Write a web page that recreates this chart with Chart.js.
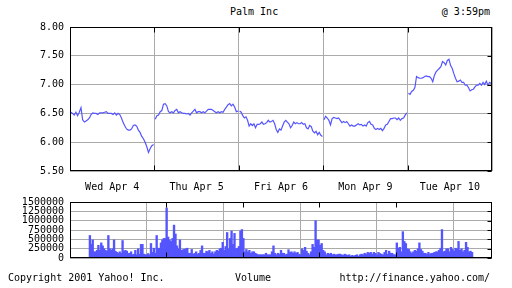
<!DOCTYPE html>
<html>
<head>
<meta charset="utf-8">
<script src="https://cdn.jsdelivr.net/npm/chart.js@4"></script>
<style>
  body { margin: 0; background: #fff; width: 512px; height: 288px; position: relative; overflow: hidden; }
  canvas { position: absolute; left: 0; }
  .txt { position: absolute; font: 10px "DejaVu Sans Mono", monospace; color: #000; line-height: 12px; white-space: pre; }
</style>
</head>
<body>
<div class="txt" style="left:230px; top:6px;">Palm Inc</div>
<div class="txt" style="right:22px; top:6px;">@ 3:59pm</div>
<canvas id="priceChart" width="512" height="196" style="top:0"></canvas>
<canvas id="volChart" width="512" height="80" style="top:190px"></canvas>
<div class="txt" style="left:8px; top:272px;">Copyright 2001 Yahoo! Inc.</div>
<div class="txt" style="left:235px; top:272px;">Volume</div>
<div class="txt" style="right:22px; top:272px;">http://finance.yahoo.com/</div>
<script>
// ---- data ----
const days = ['Wed Apr 4', 'Thu Apr 5', 'Fri Apr 6', 'Mon Apr 9', 'Tue Apr 10'];
const priceTicks = [5.5, 6.0, 6.5, 7.0, 7.5, 8.0];
const volTicks = [0, 250000, 500000, 750000, 1000000, 1250000, 1500000];

const wedPrice = [6.52,6.50,6.47,6.52,6.46,6.52,6.60,6.39,6.35,6.37,6.39,6.42,6.48,6.51,6.50,6.50,6.48,6.51,6.51,6.51,6.52,6.53,6.50,6.50,6.50,6.48,6.51,6.47,6.50,6.48,6.42,6.34,6.28,6.23,6.21,6.21,6.23,6.29,6.30,6.28,6.21,6.17,6.10,6.06,6.00,5.92,5.82,5.89,5.94,5.96];
const thuPrice = [6.40,6.46,6.47,6.53,6.55,6.66,6.67,6.63,6.53,6.51,6.53,6.51,6.55,6.57,6.51,6.53,6.51,6.50,6.50,6.49,6.50,6.47,6.51,6.54,6.57,6.51,6.53,6.53,6.51,6.53,6.51,6.54,6.57,6.57,6.57,6.55,6.53,6.51,6.53,6.51,6.53,6.52,6.57,6.61,6.65,6.67,6.63,6.66,6.61,6.53,6.54];
const friPrice = [6.54,6.52,6.46,6.42,6.44,6.38,6.28,6.32,6.29,6.32,6.25,6.31,6.31,6.32,6.35,6.31,6.32,6.34,6.38,6.35,6.36,6.38,6.32,6.22,6.17,6.23,6.21,6.28,6.35,6.38,6.35,6.32,6.25,6.29,6.35,6.32,6.34,6.32,6.32,6.34,6.31,6.32,6.25,6.23,6.29,6.27,6.19,6.16,6.19,6.13,6.17,6.12,6.10];
const monPrice = [6.39,6.45,6.42,6.38,6.30,6.41,6.43,6.42,6.41,6.42,6.38,6.34,6.36,6.34,6.36,6.32,6.28,6.30,6.28,6.28,6.30,6.32,6.30,6.31,6.28,6.30,6.28,6.34,6.36,6.31,6.30,6.24,6.22,6.24,6.22,6.24,6.20,6.24,6.30,6.31,6.36,6.41,6.41,6.42,6.42,6.39,6.42,6.38,6.41,6.42,6.47,6.51];
const tuePrice = [6.85,6.83,6.88,6.90,6.95,7.14,7.12,7.11,7.11,7.12,7.14,7.15,7.14,7.14,7.11,7.05,7.16,7.22,7.25,7.28,7.31,7.40,7.38,7.34,7.42,7.44,7.33,7.28,7.19,7.11,7.05,7.06,7.08,7.04,7.04,6.99,6.99,6.95,6.89,6.91,6.92,6.96,6.99,6.99,7.02,6.99,7.04,7.00,7.06,6.99,7.04,7.02];

// volume in thousands of shares
const wedVol = [603,365,484,167,167,206,341,206,405,325,246,206,183,603,246,206,246,484,183,151,127,167,127,468,183,206,183,127,127,167,87,103,206,87,246,103,365,365,103,87,87,119,87,389,151,262,127,603,262,262,405,484,524,524];
const thuVol = [1341,563,484,444,524,881,643,325,246,484,206,222,230,246,262,127,127,230,103,127,167,103,127,206,325,127,127,183,167,206,127,167,103,167,206,183,246,262,420,206,310,683,246,524,722,365,659,246,262,310,722,762];
const friVol = [524,167,230,167,206,127,167,167,127,103,87,87,87,87,87,127,87,87,87,167,325,127,87,127,103,206,127,127,87,103,222,151,167,127,167,127,151,103,87,246,206,286,183,127,87,167,365,286,1000,484,484];
const monVol = [341,389,206,167,87,127,103,127,87,103,87,87,103,103,87,71,103,87,71,87,48,71,48,71,87,48,87,103,87,127,103,151,127,151,103,151,127,87,151,119,103,87,151,206,103,183,127,127,87,87];
const tueVol = [405,262,286,167,706,444,389,246,230,167,127,167,206,183,246,405,230,183,127,127,103,151,103,127,127,151,167,167,206,262,762,167,183,246,246,167,286,230,183,262,246,444,206,246,167,206,420,286,167,183,151];

const prices = [wedPrice, thuPrice, friPrice, monPrice, tuePrice];
const volumes = [wedVol, thuVol, friVol, monVol, tueVol];

// spread each day's readings over its slot on the x scale (0..5)
const pricePoints = [];
prices.forEach((arr, d) => {
  arr.forEach((v, i) => pricePoints.push({ x: d + (i + 0.5) / arr.length, y: v }));
  pricePoints.push({ x: d + 1, y: null });
});
const volPoints = [];
volumes.forEach((arr, d) => {
  arr.forEach((v, i) => volPoints.push({ x: d + (i + 0.5) / arr.length, y: v * 1000 }));
});

const BLUE = '#5555ff';
const GRID = '#aaaaaa';
const FONT = { family: 'DejaVu Sans Mono', size: 10 };
Chart.defaults.color = '#000';
Chart.defaults.animation = false;

// black frame + little tick marks like the original gif
const frame = {
  id: 'frame',
  afterDraw(chart) {
    const { ctx, chartArea: a, scales } = chart;
    const l = Math.round(a.left) + 0.5, r = Math.round(a.right) - 0.5;
    const t = Math.round(a.top) + 0.5, b = Math.round(a.bottom) - 0.5;
    ctx.save();
    ctx.strokeStyle = '#000';
    ctx.lineWidth = 1;
    ctx.strokeRect(l, t, r - l, b - t);
    ctx.beginPath();
    for (let d = 1; d < days.length; d++) {
      const x = Math.round(scales.x.getPixelForValue(d)) + 0.5;
      ctx.moveTo(x, t); ctx.lineTo(x, t + 5);
      ctx.moveTo(x, b); ctx.lineTo(x, b - 5);
    }
    scales.y.ticks.forEach(tk => {
      const y = Math.round(scales.y.getPixelForValue(tk.value)) + 0.5;
      ctx.moveTo(r, y); ctx.lineTo(r - 4, y);
    });
    ctx.stroke();
    ctx.restore();
  }
};

function xScale(showLabels, h) {
  return {
    type: 'linear', min: 0, max: 5,
    afterBuildTicks: s => { s.ticks = []; for (let v = 0; v <= 5; v += 0.5) s.ticks.push({ value: v }); },
    afterFit: s => { s.height = h; },
    ticks: {
      display: showLabels, autoSkip: false, maxRotation: 0, padding: 10, font: FONT,
      callback: v => (v % 1 === 0.5 ? days[Math.floor(v)] : '')
    },
    grid: { drawTicks: false, color: c => (c.tick && c.tick.value % 1 === 0 ? GRID : 'rgba(0,0,0,0)') },
    border: { display: false }
  };
}

function yScale(min, max, ticks, fmt) {
  return {
    min, max,
    afterBuildTicks: s => { s.ticks = ticks.map(v => ({ value: v })); },
    afterFit: s => { s.width = 70; },
    ticks: { padding: 6, font: FONT, autoSkip: false, callback: fmt },
    grid: { drawTicks: false, color: GRID },
    border: { display: false }
  };
}

new Chart(document.getElementById('priceChart'), {
  type: 'line',
  data: { datasets: [{ data: pricePoints, borderColor: BLUE, borderWidth: 1.2, pointRadius: 0, tension: 0, spanGaps: false }] },
  options: {
    responsive: false,
    layout: { padding: { top: 27, right: 20, left: 0, bottom: 0 } },
    plugins: { legend: { display: false }, tooltip: { enabled: false } },
    scales: {
      x: xScale(true, 25),
      y: yScale(5.5, 8, priceTicks, v => v.toFixed(2))
    }
  },
  plugins: [frame]
});

new Chart(document.getElementById('volChart'), {
  type: 'bar',
  data: { datasets: [{ data: volPoints, backgroundColor: BLUE, barThickness: 1.7, borderWidth: 0 }] },
  options: {
    responsive: false,
    layout: { padding: { top: 12, right: 20, left: 0, bottom: 0 } },
    plugins: { legend: { display: false }, tooltip: { enabled: false } },
    scales: {
      x: xScale(false, 5),
      y: yScale(0, 1500000, volTicks, v => String(v))
    }
  },
  plugins: [frame]
});
</script>
</body>
</html>
